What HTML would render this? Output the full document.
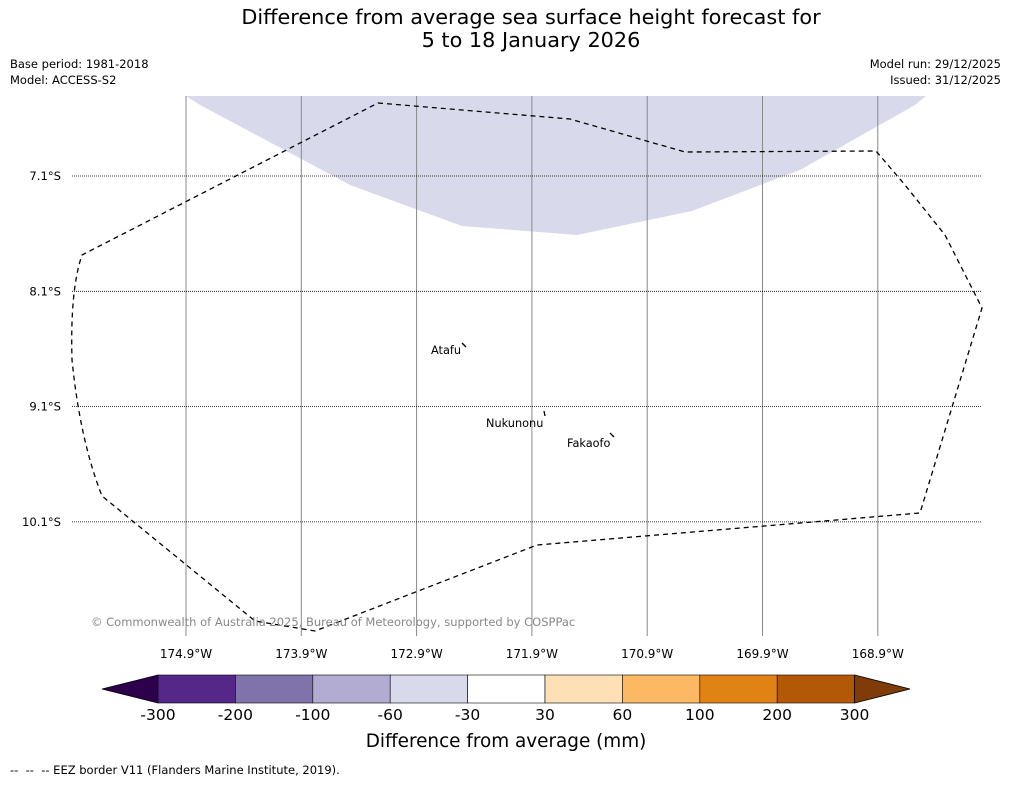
<!DOCTYPE html>
<html><head><meta charset="utf-8"><style>
body{margin:0;background:#fff;font-family:"DejaVu Sans","Liberation Sans",sans-serif;}
</style></head><body>
<svg id="chart" width="1011" height="781" xmlns="http://www.w3.org/2000/svg" font-family="DejaVu Sans, Liberation Sans, sans-serif">
<text x="531" y="24" font-size="20.8" text-anchor="middle">Difference from average sea surface height forecast for</text>
<text x="531" y="47" font-size="20.8" text-anchor="middle">5 to 18 January 2026</text>
<text x="10" y="68" font-size="11.5">Base period: 1981-2018</text>
<text x="10" y="84" font-size="11.5">Model: ACCESS-S2</text>
<text x="1001" y="68" font-size="11.5" text-anchor="end">Model run: 29/12/2025</text>
<text x="1001" y="84" font-size="11.5" text-anchor="end">Issued: 31/12/2025</text>
<g id="map">
<polygon fill="#d8daeb" points="186,96 200,105 350,185 462,226 577,235 692,211 800,170 915,105 926,96"/>
<g id="grid"></g>
<path fill="none" stroke="#000" stroke-width="1.3" stroke-dasharray="5,4" d="M378,103 L570,119 L685,152 L876,151 L905,185 L945,235 L982,308 L920,513 L537,545 L315,631 L255,621 L102,496 Q80,440 72,360 Q70,290 82,255 Z"/>
<path d="M462,343 L466,347" stroke="#000" stroke-width="1.3"/>
<path d="M544,411 L545,416" stroke="#000" stroke-width="1.3"/>
<path d="M610,433 L614,437" stroke="#000" stroke-width="1.3"/>
<text x="431" y="354" font-size="11.3">Atafu</text>
<text x="486" y="427" font-size="11.3">Nukunonu</text>
<text x="567" y="447" font-size="11.3">Fakaofo</text>
<text x="91" y="626" font-size="11.5" fill="#888">© Commonwealth of Australia 2025, Bureau of Meteorology, supported by COSPPac</text>
</g>
<g id="colorbar"></g>
<text x="506" y="747" font-size="18.4" text-anchor="middle">Difference from average (mm)</text>
<text x="10" y="774" font-size="11.5" xml:space="preserve">--  --  -- EEZ border V11 (Flanders Marine Institute, 2019).</text>
</svg>
<script>
const lonTicks=["174.9°W","173.9°W","172.9°W","171.9°W","170.9°W","169.9°W","168.9°W"];
const lonValues=[-174.9,-173.9,-172.9,-171.9,-170.9,-169.9,-168.9];
const latTicks=["7.1°S","8.1°S","9.1°S","10.1°S"];
const latValues=[-7.1,-8.1,-9.1,-10.1];
const cbLabels=["-300","-200","-100","-60","-30","30","60","100","200","300"];
const cbColors=["#542788","#8073ac","#b2abd2","#d8daeb","#ffffff","#fee0b6","#fdb863","#e08214","#b35806"];
const cbExtendLow="#2d004b", cbExtendHigh="#7f3b08";
const NS="http://www.w3.org/2000/svg";
const xS=v=>186+(v+174.9)*115.3;
const yS=v=>176+(-7.1-v)*115.3;
function mk(t,a,p){const e=document.createElementNS(NS,t);for(const k in a)e.setAttribute(k,a[k]);p.appendChild(e);return e;}
const g=document.getElementById('grid');
lonValues.forEach((v,i)=>{
 const l=mk('line',{x1:xS(v),x2:xS(v),y1:96,y2:636,stroke:'#888','stroke-width':1},g);
 
 
 const t=mk('text',{x:xS(v),y:658,'font-size':12,'text-anchor':'middle'},g);t.textContent=lonTicks[i];
 
 
});
latValues.forEach((v,i)=>{
 const l=mk('line',{x1:72,x2:982,y1:yS(v),y2:yS(v),stroke:'#000','stroke-width':0.8,'stroke-dasharray':'1,1'},g);
 
 
 const t=mk('text',{x:61,y:yS(v)+4,'font-size':11.6,'text-anchor':'end'},g);t.textContent=latTicks[i];
 
 
});
const cb=document.getElementById('colorbar');
const x0=158,w=77.4,y0=675,h=28;
const lo=mk('polygon',{points:`102,${y0+h/2} ${x0},${y0} ${x0},${y0+h}`,fill:cbExtendLow,stroke:'#000','stroke-width':0.8},cb);


cbColors.forEach((c,i)=>{
 const r=mk('rect',{x:x0+i*w,y:y0,width:w,height:h,fill:c,stroke:'#000','stroke-width':0.6},cb);
 
 
});
const xe=x0+cbColors.length*w;
const hi=mk('polygon',{points:`${xe},${y0} 910,${y0+h/2} ${xe},${y0+h}`,fill:cbExtendHigh,stroke:'#000','stroke-width':0.8},cb);


cbLabels.forEach((s,i)=>{
 const t=mk('text',{x:x0+i*w,y:720,'font-size':15.5,'text-anchor':'middle'},cb);t.textContent=s;
 
 
});
</script>
</body></html>
